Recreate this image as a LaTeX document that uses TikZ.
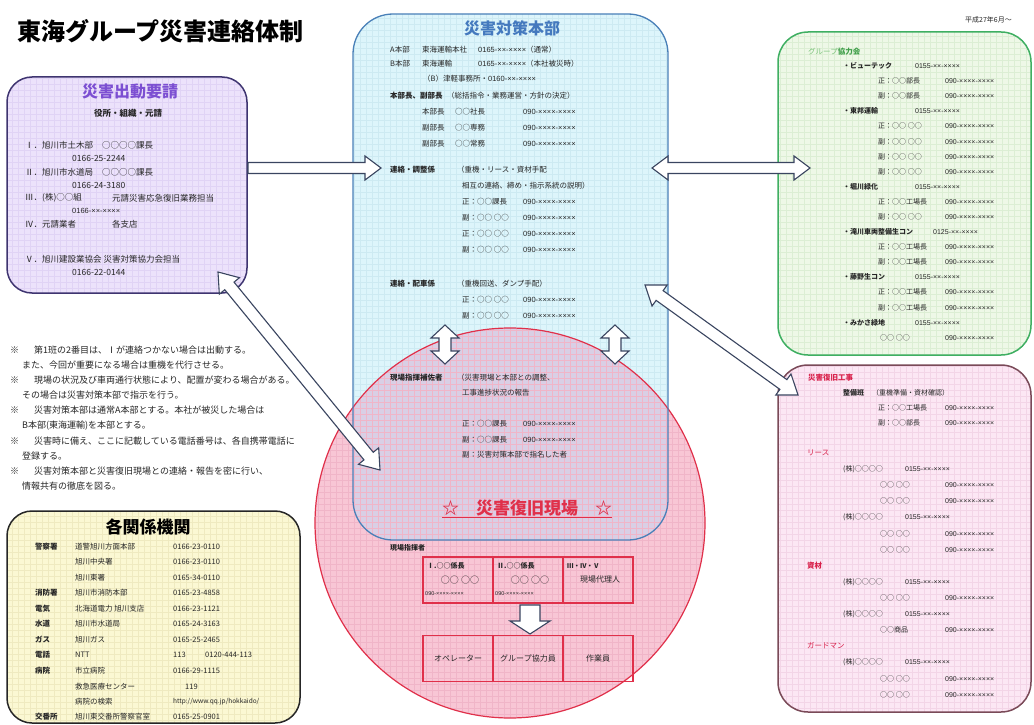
\documentclass[tikz,border=0pt]{standalone}
\usepackage{fontspec}
\setmainfont{Noto Sans CJK JP}
\newfontfamily\phf{Liberation Sans}
\usetikzlibrary{calc}
\definecolor{txt}{HTML}{262626}
\definecolor{purfill}{HTML}{ECE2FB}
\definecolor{purgrid}{HTML}{E0D3F5}
\definecolor{purline}{HTML}{3E3470}
\definecolor{purtitle}{HTML}{7C4FD2}
\definecolor{bluefill}{HTML}{DDF5FB}
\definecolor{bluegrid}{HTML}{CDEAF2}
\definecolor{blueline}{HTML}{4A80B8}
\definecolor{bluetitle}{HTML}{4479BE}
\definecolor{circfill}{HTML}{F8C6D5}
\definecolor{circgrid}{HTML}{F0B5C8}
\definecolor{circline}{HTML}{E0304A}
\definecolor{ovlfill}{HTML}{D9CFE5}
\definecolor{grnfill}{HTML}{EEF8E7}
\definecolor{grngrid}{HTML}{DCEED4}
\definecolor{grnline}{HTML}{3FAF62}
\definecolor{grntext}{HTML}{7CC47C}
\definecolor{grndark}{HTML}{3E9E48}
\definecolor{pnkfill}{HTML}{FCE7F4}
\definecolor{pnkgrid}{HTML}{F3D5E7}
\definecolor{pnkline}{HTML}{7A4A58}
\definecolor{redtext}{HTML}{D8204A}
\definecolor{yelfill}{HTML}{FBF8D3}
\definecolor{yelgrid}{HTML}{EFEAC0}
\definecolor{arrowc}{HTML}{3A4560}
\newcommand\sglarrow[5]{%
  \coordinate (tQ) at ($(#2)!#3!(#1)$);
  \filldraw[blockarrow] ($(#1)!#5!90:(#2)$) -- ($(tQ)!#5!-90:(#1)$) -- ($(tQ)!#4!-90:(#1)$) -- (#2)
    -- ($(tQ)!#4!90:(#1)$) -- ($(tQ)!#5!90:(#1)$) -- ($(#1)!#5!-90:(#2)$) -- cycle;}
\newcommand\dblarrow[5]{%
  \coordinate (tP) at ($(#1)!#3!(#2)$);
  \coordinate (tQ) at ($(#2)!#3!(#1)$);
  \filldraw[blockarrow] (#1) -- ($(tP)!#4!90:(#2)$) -- ($(tP)!#5!90:(#2)$) -- ($(tQ)!#5!-90:(#1)$)
    -- ($(tQ)!#4!-90:(#1)$) -- (#2) -- ($(tQ)!#4!90:(#1)$) -- ($(tQ)!#5!90:(#1)$)
    -- ($(tP)!#5!-90:(#2)$) -- ($(tP)!#4!-90:(#2)$) -- cycle;}
\begin{document}
\begin{tikzpicture}[x=1pt,y=-1pt,
  t/.style={anchor=west, inner sep=0pt, text=txt, font=\fontsize{7.5}{9}\selectfont},
  tb/.style={t, font=\fontsize{7.5}{9}\selectfont\bfseries},
  ph/.style={t, font=\fontsize{7.5}{9}\selectfont\phf},
  tp/.style={t, font=\fontsize{8.5}{10}\selectfont},
  tpp/.style={t, font=\fontsize{7.5}{9}\selectfont\phf},
  tg/.style={t, font=\fontsize{7}{8}\selectfont},
  tgb/.style={t, font=\fontsize{7}{8}\selectfont\bfseries},
  phg/.style={t, font=\fontsize{7}{8}\selectfont\phf},
  tn/.style={t, font=\fontsize{9}{10}\selectfont},
  ty/.style={t, font=\fontsize{7.5}{9}\selectfont},
  tyb/.style={t, font=\fontsize{7.5}{9}\selectfont\bfseries},
  boxnode/.style={inner sep=0pt, outer sep=0pt},
  blockarrow/.style={fill=white, draw=arrowc, line width=1.1pt, line join=miter},
  cell/.style={draw=circline, line width=1.4pt, inner sep=0pt, minimum width=70pt, minimum height=46pt},
  gridl/.style={line width=0.3pt, step=6pt}
]
\useasboundingbox (0,0) rectangle (1034,725);
\fill[white] (0,0) rectangle (1034,725);

% ---------- box nodes ----------
\node[boxnode, fill=purfill, rounded corners=25pt, minimum width=240pt, minimum height=216pt] (req) at (127,185) {};
\node[boxnode, fill=bluefill, rounded corners=40pt, minimum width=315pt, minimum height=526pt] (hq) at (510.5,277) {};
\node[boxnode, circle, fill=circfill, minimum size=390pt] (site) at (510,523) {};
\node[boxnode, fill=grnfill, rounded corners=30pt, minimum width=253pt, minimum height=323pt] (grp) at (904.5,193.5) {};
\node[boxnode, fill=pnkfill, rounded corners=30pt, minimum width=253pt, minimum height=347pt] (rest) at (904.5,538.5) {};
\node[boxnode, fill=yelfill, rounded corners=25pt, minimum width=293pt, minimum height=212pt] (org) at (153.5,617) {};

% overlap of HQ box and circle
\begin{scope}
  \clip (510,523) circle (195pt);
  \fill[ovlfill, rounded corners=40pt] (hq.north west) rectangle (hq.south east);
\end{scope}

% grids
\begin{scope}\clip[rounded corners=25pt] (req.north west) rectangle (req.south east);
  \draw[gridl, purgrid] (req.north west) grid (req.south east);\end{scope}
\begin{scope}\clip[rounded corners=40pt] (hq.north west) rectangle (hq.south east);
  \draw[gridl, bluegrid] (hq.north west) grid (hq.south east);\end{scope}
\begin{scope}\clip (510,523) circle (195pt);
  \draw[gridl, circgrid] (315,328) grid (705,718);\end{scope}
\begin{scope}\clip[rounded corners=30pt] (grp.north west) rectangle (grp.south east);
  \draw[gridl, grngrid] (grp.north west) grid (grp.south east);\end{scope}
\begin{scope}\clip[rounded corners=30pt] (rest.north west) rectangle (rest.south east);
  \draw[gridl, pnkgrid] (rest.north west) grid (rest.south east);\end{scope}
\begin{scope}\clip[rounded corners=25pt] (org.north west) rectangle (org.south east);
  \draw[gridl, yelgrid] (org.north west) grid (org.south east);\end{scope}

% borders
\draw[purline, line width=1.5pt, rounded corners=25pt] (req.north west) rectangle (req.south east);
\draw[circline, line width=1.2pt] (510,523) circle (195pt);
\draw[blueline, line width=1.3pt, rounded corners=40pt] (hq.north west) rectangle (hq.south east);
\draw[grnline, line width=1.5pt, rounded corners=30pt] (grp.north west) rectangle (grp.south east);
\draw[pnkline, line width=1.5pt, rounded corners=30pt] (rest.north west) rectangle (rest.south east);
\draw[black!85, line width=1.5pt, rounded corners=25pt] (org.north west) rectangle (org.south east);

% ---------- tables in the site circle ----------
\node[cell] (c1) at (458,580) {};
\node[cell] (c2) at (528,580) {};
\node[cell] (c3) at (598,580) {};
\node[cell] (d1) at (458,658.5) {};
\node[cell] (d2) at (528,658.5) {};
\node[cell] (d3) at (598,658.5) {};

% ---------- block arrows ----------
\coordinate (a1s) at (248,168);  \coordinate (a1e) at (381,168);
\coordinate (a2s) at (652,168);  \coordinate (a2e) at (810,168);
\coordinate (a3s) at (218,272);  \coordinate (a3e) at (380,470);
\coordinate (a4s) at (645,285);  \coordinate (a4e) at (798,395);
\coordinate (a5s) at (445,325);  \coordinate (a5e) at (445,364);
\coordinate (a6s) at (615,325);  \coordinate (a6e) at (615,364);
\coordinate (a7s) at (530,605);  \coordinate (a7e) at (530,634);
\sglarrow{a1s}{a1e}{16pt}{12pt}{5.5pt}
\dblarrow{a2s}{a2e}{16pt}{12pt}{5.5pt}
\dblarrow{a3s}{a3e}{18pt}{13pt}{6pt}
\dblarrow{a4s}{a4e}{18pt}{13pt}{6pt}
\dblarrow{a5s}{a5e}{13pt}{14pt}{6pt}
\dblarrow{a6s}{a6e}{13pt}{14pt}{6pt}
\sglarrow{a7s}{a7e}{13pt}{20pt}{10pt}

% ---------- title ----------
\node[anchor=west, inner sep=0pt, text=black, font=\fontsize{24}{26}\selectfont\bfseries] (title) at (17,31) {東海グループ災害連絡体制};
\node[anchor=east, inner sep=0pt, text=txt, font=\fontsize{7}{8}\selectfont] (date) at (1012,20) {平成27年6月～};

% ---------- request box ----------
\node[inner sep=0pt, text=purtitle, font=\fontsize{16}{18}\selectfont\bfseries] (reqT) at (130,91) {災害出動要請};
\node[inner sep=0pt, text=txt, font=\fontsize{8.5}{10}\selectfont\bfseries] (reqS) at (128,113) {役所・組織・元請};
\node[tp] (r1) at (25,145) {Ⅰ．旭川市土木部};
\node[tp] (r1b) at (102,145) {○○○○課長};
\node[tp] (r1p) at (72,158) {0166-25-2244};
\node[tp] (r2) at (25,172) {Ⅱ．旭川市水道局};
\node[tp] (r2b) at (102,172) {○○○○課長};
\node[tp] (r2p) at (72,185) {0166-24-3180};
\node[tp] (r3) at (25,198) {Ⅲ．(株)○○組};
\node[tp] (r3b) at (112,198) {元請災害応急復旧業務担当};
\node[tpp] (r3p) at (72,211) {0166-××-××××};
\node[tp] (r4) at (25,224) {Ⅳ．元請業者};
\node[tp] (r4b) at (112,224) {各支店};
\node[tp] (r5) at (25,259) {Ⅴ．旭川建設業協会 災害対策協力会担当};
\node[tp] (r5p) at (72,272) {0166-22-0144};

% ---------- headquarters box ----------
\node[inner sep=0pt, text=bluetitle, font=\fontsize{16}{18}\selectfont\bfseries] (hqT) at (512,28) {災害対策本部};
\node[t] (h1a) at (390,50) {A本部};
\node[t] (h1b) at (422,50) {東海運輸本社};
\node[t] (h1c) at (478,50) {{\phf 0165-××-××××}（通常）};
\node[t] (h2a) at (390,64) {B本部};
\node[t] (h2b) at (422,64) {東海運輸};
\node[t] (h2c) at (478,64) {{\phf 0165-××-××××}（本社被災時）};
\node[t] (h3a) at (423,79) {（B）津軽事務所・{\phf 0160-××-××××}};
\node[tb] (h4a) at (390,96) {本部長、副部長};
\node[t] (h4b) at (447,96) {（総括指令・業務運営・方針の決定）};
\node[t] (h5a) at (422,112) {本部長};
\node[t] (h5b) at (455,112) {○○社長};
\node[ph] (h5c) at (523,112) {090-××××-××××};
\node[t] (h6a) at (422,128) {副部長};
\node[t] (h6b) at (455,128) {○○専務};
\node[ph] (h6c) at (523,128) {090-××××-××××};
\node[t] (h7a) at (422,144) {副部長};
\node[t] (h7b) at (455,144) {○○常務};
\node[ph] (h7c) at (523,144) {090-××××-××××};
\node[tb] (h8a) at (390,170) {連絡・調整係};
\node[t] (h8b) at (457,170) {（重機・リース・資材手配};
\node[t] (h9a) at (462,186) {相互の連絡、締め・指示系統の説明）};
\node[t] (h10a) at (462,202) {正：○○課長};
\node[ph] (h10c) at (523,202) {090-××××-××××};
\node[t] (h11a) at (462,218) {副：○○ ○○};
\node[ph] (h11c) at (523,218) {090-××××-××××};
\node[t] (h12a) at (462,234) {正：○○ ○○};
\node[ph] (h12c) at (523,234) {090-××××-××××};
\node[t] (h13a) at (462,250) {副：○○ ○○};
\node[ph] (h13c) at (523,250) {090-××××-××××};
\node[tb] (h14a) at (390,284) {連絡・配車係};
\node[t] (h14b) at (457,284) {（重機回送、ダンプ手配）};
\node[t] (h15a) at (462,300) {正：○○ ○○};
\node[ph] (h15c) at (523,300) {090-××××-××××};
\node[t] (h16a) at (462,316) {副：○○ ○○};
\node[ph] (h16c) at (523,316) {090-××××-××××};
\node[tb] (h17a) at (390,378) {現場指揮補佐者};
\node[t] (h17b) at (457,378) {（災害現場と本部との調整、};
\node[t] (h18a) at (462,393) {工事進捗状況の報告};
\node[t] (h19a) at (462,424) {正：○○課長};
\node[ph] (h19c) at (523,424) {090-××××-××××};
\node[t] (h20a) at (462,440) {副：○○課長};
\node[ph] (h20c) at (523,440) {090-××××-××××};
\node[t] (h21a) at (462,455) {副：災害対策本部で指名した者};
\node[inner sep=0pt, text=circline, font=\fontsize{17}{19}\selectfont\bfseries] (siteT) at (527,509) {\underline{☆　災害復旧現場　☆}};

% ---------- site tables ----------
\node[t, font=\fontsize{7}{8}\selectfont\bfseries] (fld) at (390,548) {現場指揮者};
\node[t, font=\fontsize{7}{8}\selectfont\bfseries] (c1a) at (427,566) {Ⅰ.○○係長};
\node[inner sep=0pt, text=txt, font=\fontsize{9}{10}\selectfont] (c1b) at (460,580) {○○ ○○};
\node[t, font=\fontsize{5.5}{6}\selectfont\phf] (c1c) at (425,594) {090-××××-××××};
\node[t, font=\fontsize{7}{8}\selectfont\bfseries] (c2a) at (497,566) {Ⅱ.○○係長};
\node[inner sep=0pt, text=txt, font=\fontsize{9}{10}\selectfont] (c2b) at (530,580) {○○ ○○};
\node[t, font=\fontsize{5.5}{6}\selectfont\phf] (c2c) at (495,594) {090-××××-××××};
\node[t, font=\fontsize{6.5}{7}\selectfont\bfseries] (c3a) at (567,566) {Ⅲ・Ⅳ・Ⅴ};
\node[inner sep=0pt, text=txt, font=\fontsize{8}{9}\selectfont] (c3b) at (600,580) {現場代理人};
\node[inner sep=0pt, text=txt, font=\fontsize{8}{9}\selectfont] (d1a) at (458,658.5) {オペレーター};
\node[inner sep=0pt, text=txt, font=\fontsize{8}{9}\selectfont] (d2a) at (528,658.5) {グループ協力員};
\node[inner sep=0pt, text=txt, font=\fontsize{8}{9}\selectfont] (d3a) at (598,658.5) {作業員};

% ---------- group box ----------
\node[t, text=grntext, font=\fontsize{7.5}{9}\selectfont] (g0) at (808,52) {グループ\textcolor{grndark}{\bfseries 協力会}};
\node[tgb] (g1) at (843,66) {・ビューテック};
\node[phg] (g1p) at (915,66) {0155-××-××××};
\node[tg] (g2) at (878,81) {正：○○部長};
\node[phg] (g2p) at (945,81) {090-××××-××××};
\node[tg] (g3) at (878,96) {副：○○部長};
\node[phg] (g3p) at (945,96) {090-××××-××××};
\node[tgb] (g4) at (843,111) {・東邦運輸};
\node[phg] (g4p) at (915,111) {0155-××-××××};
\node[tg] (g5) at (878,126) {正：○○ ○○};
\node[phg] (g5p) at (945,126) {090-××××-××××};
\node[tg] (g6) at (878,142) {副：○○ ○○};
\node[phg] (g6p) at (945,142) {090-××××-××××};
\node[tg] (g7) at (878,157) {副：○○ ○○};
\node[phg] (g7p) at (945,157) {090-××××-××××};
\node[tg] (g8) at (878,172) {副：○○ ○○};
\node[phg] (g8p) at (945,172) {090-××××-××××};
\node[tgb] (g9) at (843,187) {・堀川緑化};
\node[phg] (g9p) at (915,187) {0155-××-××××};
\node[tg] (g10) at (878,202) {正：○○工場長};
\node[phg] (g10p) at (945,202) {090-××××-××××};
\node[tg] (g11) at (878,217) {副：○○ ○○};
\node[phg] (g11p) at (945,217) {090-××××-××××};
\node[tgb] (g12) at (843,232) {・滝川車両整備生コン};
\node[phg] (g12p) at (933,232) {0125-××-××××};
\node[tg] (g13) at (878,247) {正：○○工場長};
\node[phg] (g13p) at (945,247) {090-××××-××××};
\node[tg] (g14) at (878,262) {副：○○工場長};
\node[phg] (g14p) at (945,262) {090-××××-××××};
\node[tgb] (g15) at (843,277) {・藤野生コン};
\node[phg] (g15p) at (915,277) {0155-××-××××};
\node[tg] (g16) at (878,292) {正：○○工場長};
\node[phg] (g16p) at (945,292) {090-××××-××××};
\node[tg] (g17) at (878,308) {副：○○工場長};
\node[phg] (g17p) at (945,308) {090-××××-××××};
\node[tgb] (g18) at (843,323) {・みかさ緑地};
\node[phg] (g18p) at (915,323) {0155-××-××××};
\node[tg] (g19) at (880,338) {○○ ○○};
\node[phg] (g19p) at (945,338) {090-××××-××××};

% ---------- restoration box ----------
\node[t, text=redtext, font=\fontsize{7.5}{9}\selectfont\bfseries] (k0) at (808,378) {災害復旧工事};
\node[tgb] (k1) at (843,393) {整備班};
\node[tg] (k1b) at (872,393) {（重機準備・資材確認）};
\node[tg] (k2) at (878,408) {正：○○工場長};
\node[phg] (k2p) at (945,408) {090-××××-××××};
\node[tg] (k3) at (878,423) {副：○○部長};
\node[phg] (k3p) at (945,423) {090-××××-××××};
\node[t, text=redtext, font=\fontsize{7.5}{9}\selectfont] (k4) at (807,453) {リース};
\node[tg] (k5) at (843,469) {(株)○○○○};
\node[phg] (k5p) at (905,469) {0155-××-××××};
\node[tg] (k6) at (880,485) {○○ ○○};
\node[phg] (k6p) at (945,485) {090-××××-××××};
\node[tg] (k7) at (880,501) {○○ ○○};
\node[phg] (k7p) at (945,501) {090-××××-××××};
\node[tg] (k8) at (843,517) {(株)○○○○};
\node[phg] (k8p) at (905,517) {0155-××-××××};
\node[tg] (k9) at (880,534) {○○ ○○};
\node[phg] (k9p) at (945,534) {090-××××-××××};
\node[tg] (k10) at (880,550) {○○ ○○};
\node[phg] (k10p) at (945,550) {090-××××-××××};
\node[t, text=redtext, font=\fontsize{7.5}{9}\selectfont\bfseries] (k11) at (807,566) {資材};
\node[tg] (k12) at (843,582) {(株)○○○○};
\node[phg] (k12p) at (905,582) {0155-××-××××};
\node[tg] (k13) at (880,598) {○○ ○○};
\node[phg] (k13p) at (945,598) {090-××××-××××};
\node[tg] (k14) at (843,614) {(株)○○○○};
\node[phg] (k14p) at (905,614) {0155-××-××××};
\node[tg] (k15) at (880,630) {○○商品};
\node[phg] (k15p) at (945,630) {090-××××-××××};
\node[t, text=redtext, font=\fontsize{7.5}{9}\selectfont] (k16) at (807,646) {ガードマン};
\node[tg] (k17) at (843,662) {(株)○○○○};
\node[phg] (k17p) at (905,662) {0155-××-××××};
\node[tg] (k18) at (880,679) {○○ ○○};
\node[phg] (k18p) at (945,679) {090-××××-××××};
\node[tg] (k19) at (880,695) {○○ ○○};
\node[phg] (k19p) at (945,695) {090-××××-××××};

% ---------- notes ----------
\node[tn] (n1m) at (10,350) {※};
\node[tn] (n1) at (34,350) {第1班の2番目は、Ⅰが連絡つかない場合は出動する。};
\node[tn] (n1b) at (22,365) {また、今回が重要になる場合は重機を代行させる。};
\node[tn] (n2m) at (10,380) {※};
\node[tn] (n2) at (34,380) {現場の状況及び車両通行状態により、配置が変わる場合がある。};
\node[tn] (n2b) at (22,395) {その場合は災害対策本部で指示を行う。};
\node[tn] (n3m) at (10,410) {※};
\node[tn] (n3) at (34,410) {災害対策本部は通常A本部とする。本社が被災した場合は};
\node[tn] (n3b) at (22,426) {B本部(東海運輸)を本部とする。};
\node[tn] (n4m) at (10,441) {※};
\node[tn] (n4) at (34,441) {災害時に備え、ここに記載している電話番号は、各自携帯電話に};
\node[tn] (n4b) at (22,456) {登録する。};
\node[tn] (n5m) at (10,471) {※};
\node[tn] (n5) at (34,471) {災害対策本部と災害復旧現場との連絡・報告を密に行い、};
\node[tn] (n5b) at (22,486) {情報共有の徹底を図る。};

% ---------- organisations box ----------
\node[inner sep=0pt, text=black, font=\fontsize{17}{19}\selectfont\bfseries] (orgT) at (148,527) {各関係機関};
\node[tyb] (o1l) at (35,547) {警察署};
\node[ty] (o1n) at (75,547) {道警旭川方面本部};
\node[ty] (o1p) at (173,547) {0166-23-0110};
\node[ty] (o2n) at (75,562) {旭川中央署};
\node[ty] (o2p) at (173,562) {0166-23-0110};
\node[ty] (o3n) at (75,578) {旭川東署};
\node[ty] (o3p) at (173,578) {0165-34-0110};
\node[tyb] (o4l) at (35,593) {消防署};
\node[ty] (o4n) at (75,593) {旭川市消防本部};
\node[ty] (o4p) at (173,593) {0165-23-4858};
\node[tyb] (o5l) at (35,609) {電気};
\node[ty] (o5n) at (75,609) {北海道電力 旭川支店};
\node[ty] (o5p) at (173,609) {0166-23-1121};
\node[tyb] (o6l) at (35,624) {水道};
\node[ty] (o6n) at (75,624) {旭川市水道局};
\node[ty] (o6p) at (173,624) {0165-24-3163};
\node[tyb] (o7l) at (35,640) {ガス};
\node[ty] (o7n) at (75,640) {旭川ガス};
\node[ty] (o7p) at (173,640) {0165-25-2465};
\node[tyb] (o8l) at (35,655) {電話};
\node[ty] (o8n) at (75,655) {NTT};
\node[ty] (o8p) at (173,655) {113};
\node[ty] (o8q) at (205,655) {0120-444-113};
\node[tyb] (o9l) at (35,671) {病院};
\node[ty] (o9n) at (75,671) {市立病院};
\node[ty] (o9p) at (173,671) {0166-29-1115};
\node[ty] (o10n) at (75,687) {救急医療センター};
\node[ty] (o10p) at (185,687) {119};
\node[ty] (o11n) at (75,702) {病院の検索};
\node[ty, font=\fontsize{6.5}{8}\selectfont] (o11p) at (173,702) {http://www.qq.jp/hokkaido/};
\node[tyb] (o12l) at (35,717) {交番所};
\node[ty] (o12n) at (75,717) {旭川東交番所警察官室};
\node[ty] (o12p) at (173,717) {0165-25-0901};
\end{tikzpicture}
\end{document}
